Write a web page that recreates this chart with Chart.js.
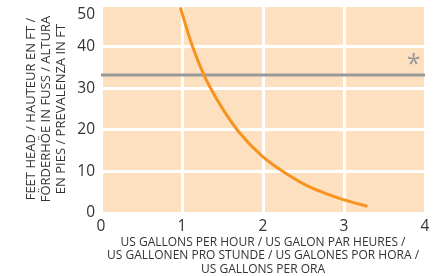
<!DOCTYPE html>
<html><head><meta charset="utf-8">
<script src="https://cdn.jsdelivr.net/npm/chart.js@4"></script>
<style>html,body{margin:0;padding:0;background:#fff}#wrap{width:434px;height:276px}</style>
</head><body><div id="wrap"><canvas id="c" width="434" height="276"></canvas></div>
<script>
const flowGph = [0.98, 1.13, 1.27, 1.35, 1.51, 1.71, 2.0, 2.3, 2.58, 2.83, 3.01, 3.29];
const headFt  = [49.4, 40.0, 33.2, 30.1, 24.8, 19.3, 13.5, 9.3, 6.2, 4.3, 3.1, 1.6];
const refX = [0, 4];
const refHead = [33.2, 33.2];
const xTicks = [0, 1, 2, 3, 4];
const yTicks = [0, 10, 20, 30, 40, 50];
const markerText = '*';
const markerPos = [3.86, 35.7];
const xTitle = ['US GALLONS PER HOUR / US GALON PAR HEURES /', 'US GALLONEN PRO STUNDE / US GALONES POR HORA /', 'US GALLONS PER ORA'];
const yTitle = ['FEET HEAD / HAUTEUR EN FT /', 'FÖRDERHÖE IN FUSS / ALTURA', 'EN PIES / PREVALENZA IN FT'];

const FONT = '"Open Sans", "Noto Sans", sans-serif';

const bgPlugin = {
  id: 'bg',
  beforeDraw(chart) {
    const {ctx, chartArea: a} = chart;
    ctx.save(); ctx.fillStyle = '#FDE0BF';
    ctx.fillRect(a.left, a.top, a.right - a.left, a.bottom - a.top);
    ctx.restore();
  },
  afterDatasetsDraw(chart) {
    const {ctx, scales} = chart;
    ctx.save();
    ctx.fillStyle = '#9a9a9a';
    ctx.font = '25px ' + FONT;
    ctx.textAlign = 'center'; ctx.textBaseline = 'middle';
    ctx.fillText(markerText, scales.x.getPixelForValue(markerPos[0]), scales.y.getPixelForValue(markerPos[1]));
    ctx.restore();
  }
};

new Chart(document.getElementById('c'), {
  type: 'scatter',
  data: {
    datasets: [
      { data: refX.map((x, i) => ({x, y: refHead[i]})), showLine: true, borderColor: '#999999', borderWidth: 3, pointRadius: 0, order: 2 },
      { data: flowGph.map((x, i) => ({x, y: headFt[i]})), showLine: true, borderColor: '#F7931E', borderWidth: 3, pointRadius: 0, cubicInterpolationMode: 'monotone', order: 1 }
    ]
  },
  options: {
    responsive: false, animation: false, devicePixelRatio: 1,
    layout: { padding: { top: 5, right: 9, left: 0, bottom: 0 } },
    plugins: { legend: { display: false }, tooltip: { enabled: false } },
    scales: {
      x: {
        type: 'linear', min: 0, max: 4,
        afterBuildTicks(s) { s.ticks = xTicks.map(v => ({value: v})); },
        afterFit(s) { s.height = 63; s.paddingLeft = 0; s.paddingRight = 0; },
        grid: { color: '#ffffff', lineWidth: 3, drawTicks: false },
        border: { display: false },
        ticks: { color: '#333333', font: { family: FONT, size: 15.5 }, padding: 4 },
        title: { display: true, text: xTitle, color: '#333333', font: { family: FONT, size: 12, lineHeight: 1.12 }, padding: { top: 0, bottom: 0 } }
      },
      y: {
        type: 'linear', min: 0, max: 50,
        afterBuildTicks(s) { s.ticks = yTicks.map(v => ({value: v})); },
        afterFit(s) { s.width = 101; s.paddingTop = 0; s.paddingBottom = 0; },
        grid: { color: '#ffffff', lineWidth: 3, drawTicks: false },
        border: { display: false },
        ticks: {
          color: '#333333', font: { family: FONT, size: 15.5 }, padding: 6,
          callback: (v) => v === yTicks[yTicks.length - 1] ? ['', String(v)] : String(v)
        },
        title: { display: true, text: yTitle, color: '#333333', font: { family: FONT, size: 13, lineHeight: 1.12 }, padding: { top: 24.5, bottom: 0 } }
      }
    }
  },
  plugins: [bgPlugin]
});
</script></body></html>
